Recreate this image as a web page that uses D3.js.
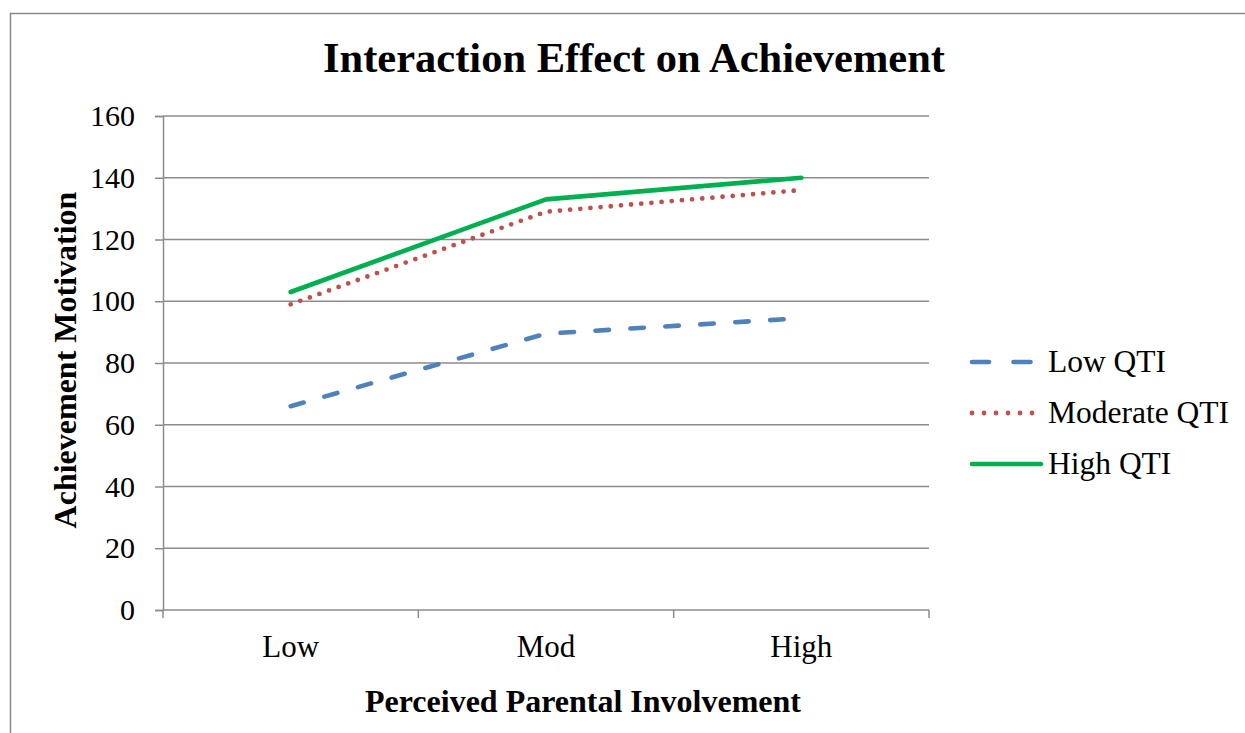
<!DOCTYPE html>
<html>
<head>
<meta charset="utf-8">
<script src="https://cdn.jsdelivr.net/npm/d3@7/dist/d3.min.js"></script>
<style>
  html, body { margin: 0; padding: 0; background: #fff; }
  svg { display: block; font-family: "Liberation Serif", "Times New Roman", serif; }
</style>
</head>
<body>
<svg id="chart" width="1245" height="733"></svg>
<script>
// Parental involvement levels on the x axis
const categories = ["Low", "Mod", "High"];
// Achievement motivation for each QTI group
const lowQTI = [66, 89.5, 94.5];
const moderateQTI = [99, 129, 136];
const highQTI = [103, 133, 140];
const seriesNames = ["Low QTI", "Moderate QTI", "High QTI"];
const yTicks = [0, 20, 40, 60, 80, 100, 120, 140, 160];

const series = [
  { name: seriesNames[0], values: lowQTI, color: "#4f81bd", dash: "13.5,21.5", legendDash: "17,24.5", width: 4.6 },
  { name: seriesNames[1], values: moderateQTI, color: "#c0504d", dash: "0,10.2", legendDash: "0,12", width: 4.8 },
  { name: seriesNames[2], values: highQTI, color: "#00b050", dash: null, legendDash: null, width: 4.6 }
];

const svg = d3.select("#chart");
const plotLeft = 163, plotRight = 929, plotTop = 116, plotBottom = 610;

// Outer chart frame
svg.append("rect")
  .attr("x", 10.5).attr("y", 13.5)
  .attr("width", 1260).attr("height", 760)
  .attr("fill", "none").attr("stroke", "#888").attr("stroke-width", 1.5);

const x = d3.scaleBand().domain(categories).range([plotLeft, plotRight]);
const y = d3.scaleLinear().domain([0, 160]).range([plotBottom, plotTop]);

// Horizontal gridlines
svg.append("g").selectAll("line").data(yTicks.filter(d => d > 0)).join("line")
  .attr("x1", plotLeft).attr("x2", plotRight)
  .attr("y1", d => y(d)).attr("y2", d => y(d))
  .attr("stroke", "#8c8c8c").attr("stroke-width", 1.5);

// Y axis
const yAxis = svg.append("g").attr("transform", `translate(${plotLeft},0)`)
  .call(d3.axisLeft(y).tickValues(yTicks).tickSize(8).tickPadding(20));
yAxis.select(".domain").attr("stroke", "#8c8c8c").attr("stroke-width", 1.5);
yAxis.selectAll(".tick line").attr("stroke", "#8c8c8c").attr("stroke-width", 1.5);
yAxis.selectAll(".tick text")
  .attr("font-family", "Liberation Serif, serif").attr("font-size", 30).attr("fill", "#000");

// X axis: ticks sit on band boundaries, labels at band centres
const xAxisG = svg.append("g").attr("transform", `translate(0,${plotBottom})`);
xAxisG.append("line").attr("x1", plotLeft).attr("x2", plotRight)
  .attr("stroke", "#8c8c8c").attr("stroke-width", 1.5);
const bounds = categories.map(c => x(c)).concat([x(categories[categories.length - 1]) + x.bandwidth()]);
xAxisG.selectAll("line.tk").data(bounds).join("line").attr("class", "tk")
  .attr("x1", d => d).attr("x2", d => d).attr("y1", 0).attr("y2", 8)
  .attr("stroke", "#8c8c8c").attr("stroke-width", 1.5);
xAxisG.selectAll("text").data(categories).join("text")
  .attr("x", d => x(d) + x.bandwidth() / 2).attr("y", 47)
  .attr("text-anchor", "middle").attr("font-size", 31).attr("fill", "#000")
  .text(d => d);

// Series lines
const line = d3.line()
  .x((d, i) => x(categories[i]) + x.bandwidth() / 2)
  .y(d => y(d));

series.forEach(s => {
  const p = svg.append("path").datum(s.values)
    .attr("d", line)
    .attr("fill", "none").attr("stroke", s.color)
    .attr("stroke-width", s.width)
    .attr("stroke-linecap", "round").attr("stroke-linejoin", "round");
  if (s.dash) p.attr("stroke-dasharray", s.dash);
});

// Legend
const legendY = [362, 413, 464];
series.forEach((s, i) => {
  const ly = legendY[i];
  const l = svg.append("line")
    .attr("x1", 972).attr("x2", s.dash ? 1033 : 1041)
    .attr("y1", ly).attr("y2", ly)
    .attr("stroke", s.color).attr("stroke-width", s.width)
    .attr("stroke-linecap", "round");
  if (s.legendDash) l.attr("stroke-dasharray", s.legendDash);
  svg.append("text").attr("x", 1048).attr("y", ly + 10)
    .attr("font-size", 31.5).attr("fill", "#000").text(s.name);
});

// Titles
svg.append("text").attr("x", 634).attr("y", 72)
  .attr("text-anchor", "middle").attr("font-size", 42.5).attr("font-weight", "bold")
  .text("Interaction Effect on Achievement");

svg.append("text").attr("x", 583).attr("y", 712)
  .attr("text-anchor", "middle").attr("font-size", 32).attr("font-weight", "bold")
  .text("Perceived Parental Involvement");

svg.append("text")
  .attr("transform", "translate(76,360) rotate(-90)")
  .attr("text-anchor", "middle").attr("font-size", 32).attr("font-weight", "bold")
  .text("Achievement Motivation");
</script>
</body>
</html>
